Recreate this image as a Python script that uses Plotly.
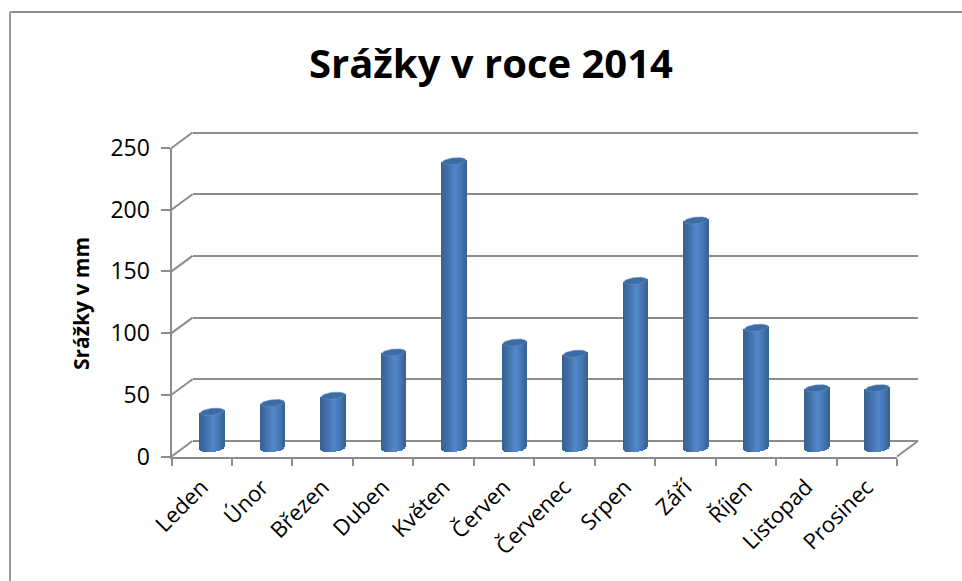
import numpy as np
import plotly.graph_objects as go

months = ["Leden", "Únor", "Březen", "Duben", "Květen", "Červen", "Červenec", "Srpen", "Září", "Říjen", "Listopad", "Prosinec"]
rain = [30, 37, 43, 78, 233, 86, 77, 136, 185, 98, 49, 49]
y_ticks = [0, 50, 100, 150, 200, 250]

W, H = 962, 581
GRAY = "#8c8c8c"
FONT = "Open Sans"
def px(x): return x / W
def py(y): return 1 - y / H

# pixel geometry of the pseudo-3D box
fx0, fx1, fy0, fy1 = 171.5, 897.0, 456.5, 148.0      # front plane
dx, dy = 21.0, -15.5                                 # depth offset
unit = (fy0 - fy1) / 250

# cylinder slices (one bar per slice gives the horizontal shading)
N = 26
radius = 0.195
ry = 3.4 / unit
tilt = 1.2 / unit
ts = np.linspace(-1, 1, N)
stops = [(-1, (56, 98, 148)), (-0.6, (62, 108, 164)), (0.1, (84, 136, 202)), (0.6, (70, 120, 182)), (1, (58, 100, 150))]
def shade(t):
    c = [np.interp(t, [s[0] for s in stops], [s[1][k] for s in stops]) for k in range(3)]
    return f"rgb({int(c[0])},{int(c[1])},{int(c[2])})"

bx, bb, bh, bc = [], [], [], []
for i, v in enumerate(rain):
    for t in ts:
        lo = -ry * np.sqrt(max(0, 1 - t * t)) + tilt * t
        hi = v + tilt * t
        bx.append(i + t * radius)
        bb.append(lo)
        bh.append(hi - lo)
        bc.append(shade(t))

fig = go.Figure()
fig.add_trace(go.Scatter(x=[0], y=[0], xaxis="x", yaxis="y", mode="markers", marker=dict(opacity=0), hoverinfo="skip", showlegend=False))
fig.add_trace(go.Scatter(x=[0], y=[0], xaxis="x4", yaxis="y", mode="markers", marker=dict(opacity=0), hoverinfo="skip", showlegend=False))
fig.add_trace(go.Scatter(x=[0], y=[0], xaxis="x2", yaxis="y2", mode="markers", marker=dict(opacity=0), hoverinfo="skip", showlegend=False))
fig.add_trace(go.Bar(x=bx, y=bh, base=bb, width=2 * radius / (N - 1) * 1.25, xaxis="x3", yaxis="y3",
                     marker=dict(color=bc, line=dict(width=0)), showlegend=False))
th = np.linspace(0, 2 * np.pi, 60)
for i, v in enumerate(rain):
    fig.add_trace(go.Scatter(
        x=i + radius * np.cos(th), y=v + ry * np.sin(th) + tilt * np.cos(th),
        xaxis="x3", yaxis="y3", mode="lines", fill="toself", fillcolor="#3c6ca3",
        line=dict(color="#6490c2", width=0.6), hoverinfo="skip", showlegend=False))

lo3 = -14
pad = 4  # wall axis runs slightly past the gridlines so plotly keeps the end lines
shapes = [
    dict(type="line", xref="paper", yref="paper", x0=px(10), x1=px(962), y0=py(12), y1=py(12), line=dict(color="#8f8f8f", width=2)),
    dict(type="line", xref="paper", yref="paper", x0=px(10), x1=px(10), y0=py(12), y1=py(581), line=dict(color="#9a9a9a", width=2)),
    dict(type="line", xref="paper", yref="paper", x0=px(fx1), x1=px(fx1 + dx), y0=py(fy0), y1=py(fy0 + dy), line=dict(color=GRAY, width=2)),
]
for v in y_ticks:
    yy = fy0 - v * unit
    shapes.append(dict(type="line", xref="paper", yref="paper", x0=px(fx0), x1=px(fx0 + dx), y0=py(yy), y1=py(yy + dy), line=dict(color=GRAY, width=2)))

fig.update_layout(
    template="none",
    width=W, height=H, autosize=False, margin=dict(l=0, r=0, t=0, b=0, autoexpand=False),
    paper_bgcolor="white", plot_bgcolor="rgba(0,0,0,0)", barmode="overlay", bargap=0,
    shapes=shapes, showlegend=False,
    font=dict(family=FONT, color="black"),
    xaxis=dict(automargin=False, domain=[px(fx0), px(fx1)], range=[-0.5, 11.5], tickvals=[i - 0.5 for i in range(13)], ticks="outside", ticklen=7, tickwidth=2,
               tickcolor=GRAY, showticklabels=False, showline=True, linecolor=GRAY, linewidth=2, showgrid=False, zeroline=False, anchor="y"),
    yaxis=dict(automargin=False, domain=[py(fy0), py(fy1)], range=[0, 250], tickvals=y_ticks, ticks="outside", ticklen=9, tickwidth=2, tickcolor=GRAY,
               tickfont=dict(size=23, family=FONT), ticklabelstandoff=6, showline=True, linecolor=GRAY, linewidth=2, showgrid=False, zeroline=False, anchor="x"),
    xaxis2=dict(automargin=False, domain=[px(fx0 + dx), px(fx1 + dx)], range=[-0.5, 11.5], visible=False, anchor="y2"),
    yaxis2=dict(automargin=False, domain=[py(fy0 + dy + pad), py(fy1 + dy - pad)], range=[-pad / unit, 250 + pad / unit], tickvals=y_ticks, showticklabels=False, ticks="", showline=False,
                showgrid=True, gridcolor=GRAY, gridwidth=2, zeroline=False, anchor="x2"),
    xaxis3=dict(automargin=False, domain=[px(fx0 + dx / 2), px(fx1 + dx / 2)], range=[-0.5, 11.5], showticklabels=False, ticks="", showline=False, showgrid=False, zeroline=False, anchor="y3"),
    yaxis3=dict(automargin=False, domain=[py(fy0 + dy / 2 - lo3 * unit), py(fy1 + dy / 2)], range=[lo3, 250], visible=False, anchor="x3"),
    xaxis4=dict(automargin=False, domain=[px(fx0), px(fx1)], range=[-0.5, 11.5], tickvals=list(range(12)), ticktext=months, tickangle=-45,
                tickfont=dict(size=22, family=FONT), ticks="", showline=False, showgrid=False, zeroline=False, anchor="free", position=py(469), overlaying="x"),
    annotations=[
        dict(text="<b>Srážky v roce 2014</b>", xref="paper", yref="paper", x=px(491), y=py(62), showarrow=False, font=dict(size=40, family=FONT), xanchor="center", yanchor="middle"),
        dict(text="<b>Srážky v mm</b>", xref="paper", yref="paper", x=px(81), y=py(304), showarrow=False, textangle=-90, font=dict(size=21, family=FONT), xanchor="center", yanchor="middle"),
    ],
)
fig.write_html("out.html", post_script="document.body.style.margin='0';", config=dict(displayModeBar=False))
